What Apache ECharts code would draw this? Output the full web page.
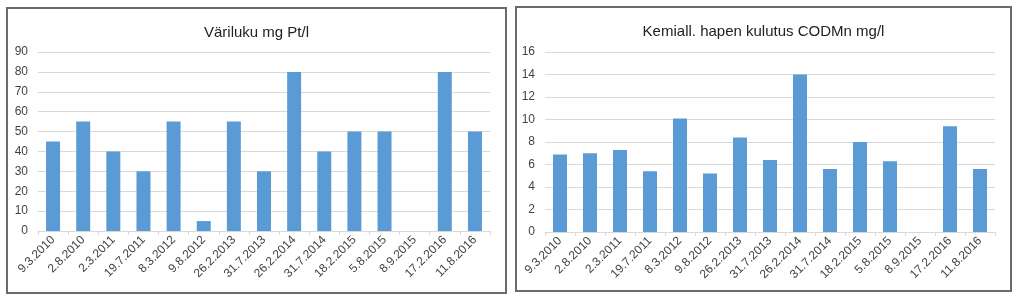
<!DOCTYPE html>
<html>
<head>
<meta charset="utf-8">
<script src="https://cdn.jsdelivr.net/npm/echarts@6/dist/echarts.min.js"></script>
<style>
html,body{margin:0;padding:0;background:#fff;width:1024px;height:299px;overflow:hidden;}
.box{position:absolute;border:2px solid #6b6b6b;background:#fff;box-sizing:border-box;}
</style>
</head>
<body>
<div id="c1" class="box" style="left:6px;top:7px;width:501px;height:287px;"></div>
<div id="c2" class="box" style="left:515px;top:6px;width:497px;height:286px;"></div>
<script>
const categories = ["9.3.2010","2.8.2010","2.3.2011","19.7.2011","8.3.2012","9.8.2012","26.2.2013","31.7.2013","26.2.2014","31.7.2014","18.2.2015","5.8.2015","8.9.2015","17.2.2016","11.8.2016"];
const colorValues = [45,55,40,30,55,5,55,30,80,40,50,50,null,80,50];
const codValues = [6.9,7.0,7.3,5.4,10.1,5.2,8.4,6.4,14.0,5.6,8.0,6.3,null,9.4,5.6];
const title1 = "Väriluku mg Pt/l";
const title2 = "Kemiall. hapen kulutus CODMn mg/l";

const FONT = "Liberation Sans";
function makeOption(title, values, max, interval, grid) {
  return {
    animation: false,
    title: {
      text: title, left: 'center', top: 11,
      textStyle: {fontFamily: FONT, fontSize: 15, fontWeight: 'normal', color: '#222'}
    },
    grid: grid,
    xAxis: {
      type: 'category', data: categories,
      axisLine: {lineStyle: {color: '#d9d9d9'}},
      axisTick: {show: true, length: 4, lineStyle: {color: '#d9d9d9'}},
      axisLabel: {rotate: 45, fontFamily: FONT, fontSize: 12, color: '#444', margin: 7, interval: 0}
    },
    yAxis: {
      type: 'value', min: 0, max: max, interval: interval,
      axisLine: {show: false}, axisTick: {show: false},
      splitLine: {lineStyle: {color: '#d9d9d9'}},
      axisLabel: {fontFamily: FONT, fontSize: 12, color: '#444', margin: 10}
    },
    series: [{type: 'bar', data: values, barWidth: 14, itemStyle: {color: '#5b9bd5'}}]
  };
}
const ch1 = echarts.init(document.getElementById('c1'), null, {renderer: 'canvas'});
ch1.setOption(makeOption(title1, colorValues, 90, 10, {left: 30, width: 452, top: 43, height: 179}));
const ch2 = echarts.init(document.getElementById('c2'), null, {renderer: 'canvas'});
ch2.setOption(makeOption(title2, codValues, 16, 2, {left: 28, width: 450, top: 44, height: 180}));
</script>
</body>
</html>
